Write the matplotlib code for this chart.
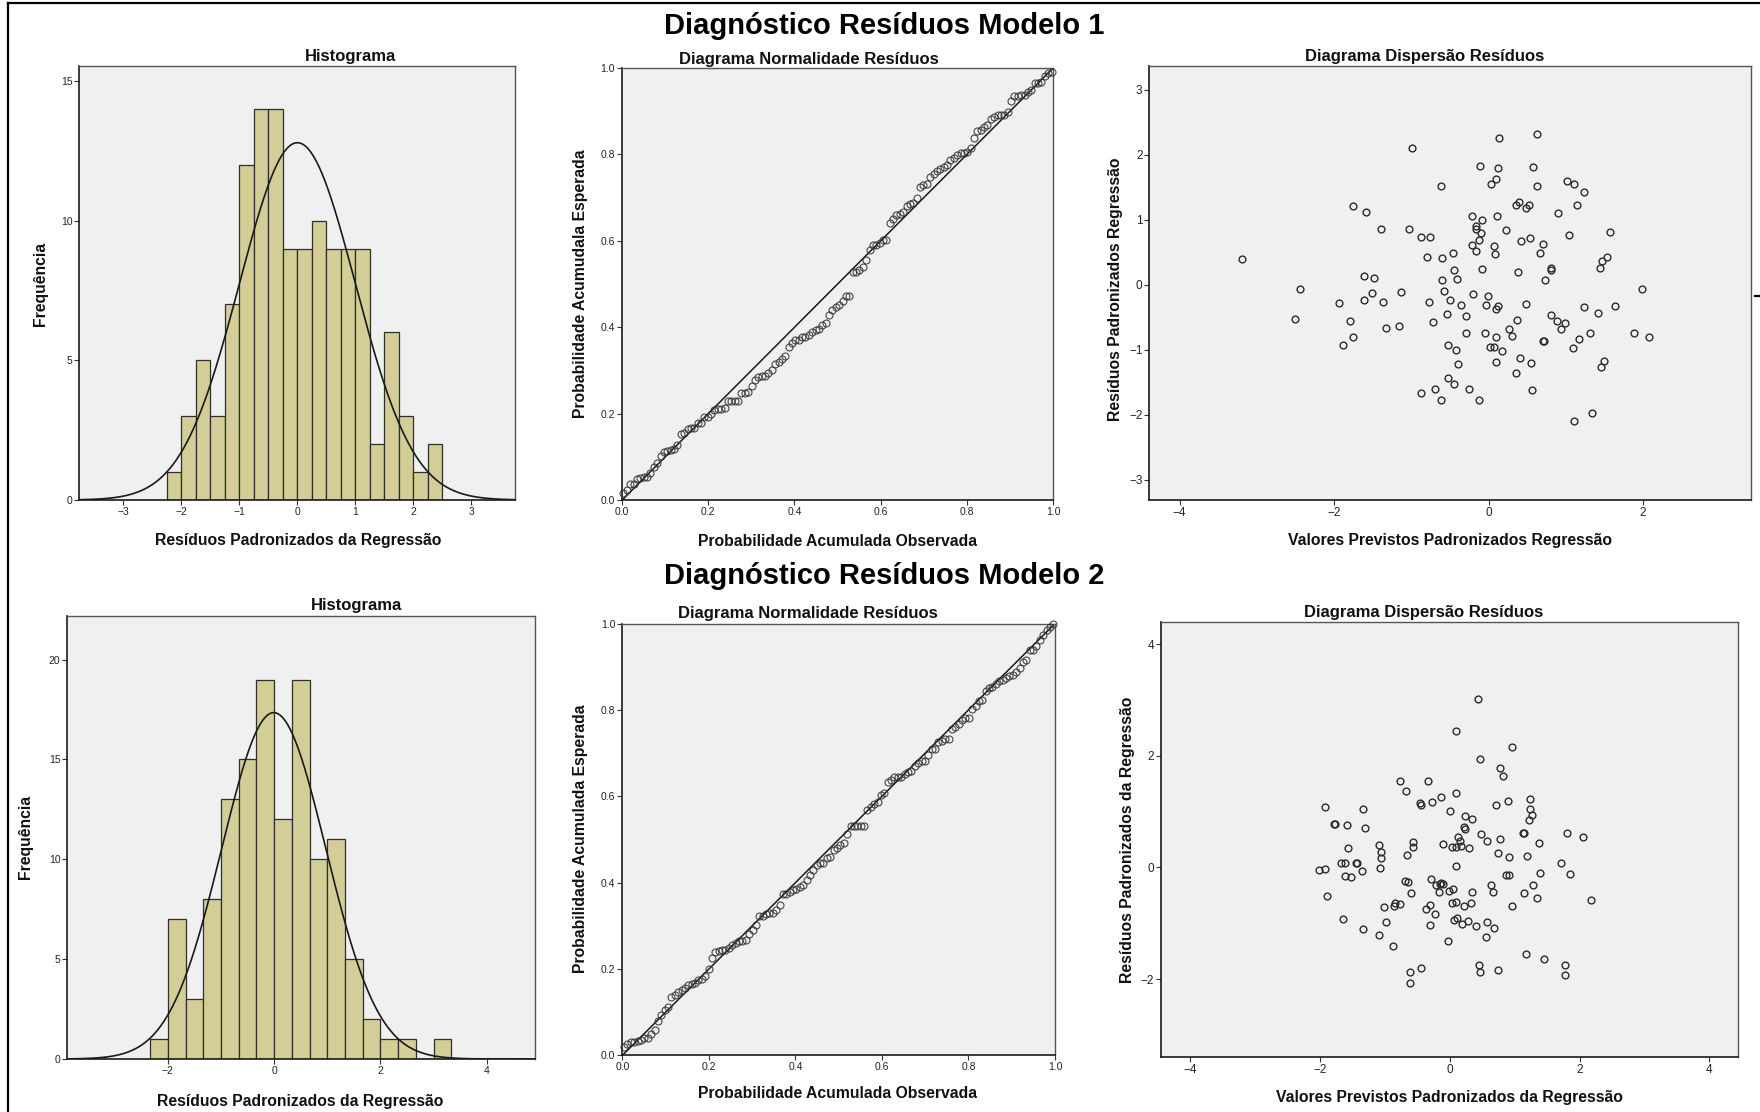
import math
import numpy as np
import matplotlib
matplotlib.use("Agg")
import matplotlib.pyplot as plt
from matplotlib.lines import Line2D

plt.rcParams['font.family'] = ['Liberation Sans', 'DejaVu Sans']

# ---------------------------------------------------------------- data
# Model 1: standardized predicted values and standardized residuals
pred1 = [-3.19, -2.44, -2.50, -1.93, -1.80, -1.89, -1.75, -1.76, -1.59, -1.61,
         -1.48, -1.61, -1.51, -1.37, -1.39, -1.33, -1.16, -1.14, -0.99, -1.03,
         -0.88, -0.76, -0.80, -0.77, -0.72, -0.88, -0.70, -0.61, -0.62, -0.60,
         -0.60, -0.58, -0.50, -0.54, -0.53, -0.52, -0.45, -0.46, -0.45, -0.41,
         -0.42, -0.39, -0.36, -0.29, -0.29, -0.26, -0.21, -0.16, -0.16, -0.21,
         -0.16, -0.20, -0.12, -0.11, -0.08, -0.10, -0.12, -0.08, -0.04, -0.01,
         -0.05, 0.02, 0.07, 0.03, 0.10, 0.12, 0.14, 0.11, 0.07, 0.08,
         0.09, 0.10, 0.12, 0.10, 0.17, 0.22, 0.27, 0.30, 0.35, 0.39,
         0.38, 0.37, 0.35, 0.41, 0.42, 0.48, 0.49, 0.52, 0.54, 0.55,
         0.56, 0.57, 0.63, 0.63, 0.67, 0.71, 0.73, 0.70, 0.72, 0.81,
         0.81, 0.81, 0.88, 0.90, 0.94, 0.99, 1.01, 1.04, 1.09, 1.10,
         1.10, 1.14, 1.17, 1.24, 1.24, 1.31, 1.34, 1.42, 1.44, 1.47,
         1.53, 1.45, 1.49, 1.57, 1.63, 1.88, 1.99, 2.07]
resid1 = [0.39, -0.07, -0.52, -0.28, -0.56, -0.92, -0.80, 1.21, 1.12, 0.14,
          0.10, -0.24, -0.13, -0.27, 0.86, -0.67, -0.63, -0.12, 2.10, 0.85,
          0.73, 0.74, 0.42, -0.26, -0.57, -1.66, -1.60, -1.77, 1.52, 0.41,
          0.07, -0.10, -0.23, -0.45, -0.92, -1.43, -1.52, 0.48, 0.23, 0.08,
          -1.01, -1.22, -0.31, -0.48, -0.74, -1.60, 1.06, 0.90, 0.85, 0.61,
          0.52, -0.15, -1.77, 1.83, 0.99, 0.80, 0.69, 0.24, -0.31, -0.18,
          -0.74, -0.96, -0.96, 1.54, 1.63, 1.80, 2.26, 1.05, 0.60, 0.47,
          -0.81, -1.19, -0.33, -0.37, -1.02, 0.84, -0.68, -0.79, 1.23, 1.27,
          0.20, -0.54, -1.36, -1.13, 0.67, -0.30, 1.18, 1.23, 0.71, -1.21,
          -1.62, 1.81, 2.32, 1.52, 0.49, 0.62, 0.07, -0.87, -0.87, 0.26,
          0.23, -0.47, -0.56, 1.10, -0.68, -0.59, 1.60, 0.76, -0.97, 1.54,
          -2.10, 1.23, -0.84, 1.43, -0.35, -0.74, -1.98, -0.43, 0.26, 0.36,
          0.43, -1.27, -1.18, 0.81, -0.33, -0.74, -0.07, -0.80]

# Model 2: standardized predicted values and standardized residuals
pred2 = [-2.02, -1.92, -1.92, -1.90, -1.78, -1.77, -1.67, -1.62, -1.64, -1.61,
         -1.58, -1.57, -1.52, -1.45, -1.43, -1.36, -1.34, -1.34, -1.30, -1.09,
         -1.09, -1.06, -1.06, -1.08, -1.01, -0.98, -0.87, -0.86, -0.84, -0.76,
         -0.77, -0.68, -0.69, -0.65, -0.66, -0.62, -0.62, -0.60, -0.57, -0.56,
         -0.46, -0.44, -0.45, -0.36, -0.33, -0.31, -0.31, -0.29, -0.27, -0.23,
         -0.21, -0.16, -0.15, -0.11, -0.13, -0.11, -0.03, -0.01, 0.01, 0.03,
         0.03, 0.05, 0.07, 0.09, 0.09, 0.09, 0.09, 0.09, 0.11, 0.13,
         0.15, 0.18, 0.19, 0.22, 0.22, 0.23, 0.24, 0.28, 0.30, 0.33,
         0.34, 0.35, 0.40, 0.43, 0.45, 0.46, 0.47, 0.48, 0.57, 0.57,
         0.56, 0.63, 0.67, 0.68, 0.72, 0.74, 0.75, 0.77, 0.78, 0.82,
         0.86, 0.92, 0.90, 0.92, 0.96, 0.96, 1.13, 1.14, 1.15, 1.18,
         1.19, 1.22, 1.23, 1.24, 1.27, 1.28, 1.35, 1.38, 1.39, 1.46,
         1.71, 1.77, 1.78, 1.81, 1.85, 2.05, 2.17, -0.13]
resid2 = [-0.05, -0.03, 1.08, -0.52, 0.78, 0.78, 0.08, 0.08, -0.93, -0.15,
          0.76, 0.34, -0.18, 0.08, 0.08, -0.06, 1.04, -1.10, 0.71, -1.21,
          0.40, 0.27, 0.17, -0.02, -0.71, -0.98, -1.40, -0.69, -0.63, -0.66,
          1.55, 1.37, -0.24, -0.27, 0.22, -1.88, -2.07, -0.46, 0.37, 0.46,
          1.15, 1.11, -1.80, -0.75, 1.54, -0.68, -1.03, -0.21, 1.17, -0.84,
          -0.32, -0.44, -0.29, -0.30, 1.26, 0.41, -1.32, -0.42, 1.01, -0.64,
          0.37, -0.39, -0.94, 2.45, 1.34, 0.03, 0.37, -0.62, -0.90, 0.55,
          0.47, 0.39, -1.01, -0.69, 0.73, 0.69, 0.92, -0.96, 0.35, -0.63,
          0.87, -0.44, -1.05, 3.01, -1.75, -1.87, 1.94, 0.60, 0.47, -0.97,
          -1.25, -0.32, -0.45, -1.08, 1.12, 0.26, -1.84, 1.78, 0.51, 1.63,
          -0.14, -0.14, 1.18, 0.19, 2.16, -0.70, 0.62, 0.62, -0.46, -1.56,
          0.21, 0.85, 1.05, 1.22, 0.93, -0.31, -0.55, 0.44, -0.10, -1.64,
          0.08, -1.75, -1.93, 0.61, -0.11, 0.55, -0.58, -0.28]

# histogram bin layouts used by each model
hist1_bins = np.arange(-9, 11) * 0.25          # -2.25 ... 2.5
hist2_bins = np.arange(-7, 11) / 3.0           # -2.33 ... 3.33

# ---------------------------------------------------------------- styling
W, H = 1760, 1112
BG = '#F0F0F0'
BAR = '#D3CE97'
EDGE = '#2e2e2e'

fig = plt.figure(figsize=(W / 100, H / 100), dpi=100)
fig.patch.set_facecolor('white')


def box(x0, y0, x1, y1):
    """Axes rectangle from pixel box (top-left origin)."""
    return [x0 / W, 1 - y1 / H, (x1 - x0) / W, (y1 - y0) / H]


def ftext(x, y, s, **kw):
    fig.text(x / W, 1 - y / H, s, **kw)


def style(ax, narrow=False):
    ax.set_facecolor(BG)
    for side in ('top', 'right'):
        ax.spines[side].set_color('#555555')
        ax.spines[side].set_linewidth(1.0)
    for side in ('left', 'bottom'):
        ax.spines[side].set_color('#1a1a1a')
        ax.spines[side].set_linewidth(1.2)
    ax.tick_params(direction='out', length=3.5, width=0.8, color='#333333',
                   labelsize=7.5, labelcolor='#222222', pad=1.5,
                   top=False, right=False)
    if narrow:
        for lab in ax.get_xticklabels() + ax.get_yticklabels():
            lab.set_family(['Liberation Sans Narrow', 'Liberation Sans'])
            lab.set_fontsize(8.5)


def normal_cdf(z):
    return 0.5 * (1.0 + math.erf(z / math.sqrt(2.0)))


def histogram(ax, resid, bins, xlim, ylim, xticks, yticks):
    resid = np.asarray(resid)
    ax.hist(resid, bins=bins, color=BAR, edgecolor=EDGE, linewidth=0.9,
            zorder=2)
    n = resid.size
    mu = resid.mean()
    sd = resid.std(ddof=1)
    bw = bins[1] - bins[0]
    xs = np.linspace(xlim[0], xlim[1], 500)
    ys = n * bw * np.exp(-0.5 * ((xs - mu) / sd) ** 2) / (sd * math.sqrt(2 * math.pi))
    ax.plot(xs, ys, color='#1a1a1a', lw=1.2, zorder=3)
    ax.set_xlim(*xlim)
    ax.set_ylim(*ylim)
    ax.set_xticks(xticks)
    ax.set_yticks(yticks)
    style(ax)


def ppplot(ax, resid):
    z = np.sort(np.asarray(resid))
    n = z.size
    observed = (np.arange(1, n + 1) - 0.5) / n
    expected = np.array([normal_cdf(v) for v in z])
    ax.plot([0, 1], [0, 1], color='#1a1a1a', lw=1.1, zorder=2)
    ax.plot(observed, expected, 'o', mfc='none', mec='#333333', ms=5.0,
            mew=0.85, alpha=0.85, zorder=3, clip_on=False)
    ax.set_xlim(0, 1)
    ax.set_ylim(0, 1)
    ticks = [0.0, 0.2, 0.4, 0.6, 0.8, 1.0]
    ax.set_xticks(ticks)
    ax.set_yticks(ticks)
    ax.set_xticklabels([f'{t:.1f}' for t in ticks])
    ax.set_yticklabels([f'{t:.1f}' for t in ticks])
    style(ax)


def scatter(ax, pred, resid, xlim, ylim, xticks, yticks):
    ax.plot(pred, resid, 'o', mfc='none', mec='#2b2b2b', ms=4.9, mew=1.0,
            zorder=3)
    ax.set_xlim(*xlim)
    ax.set_ylim(*ylim)
    ax.set_xticks(xticks)
    ax.set_yticks(yticks)
    style(ax, narrow=True)


TITLE = dict(fontsize=12, fontweight='bold', ha='center', va='baseline',
             color='#111111')
LABEL = dict(fontsize=11.3, fontweight='bold', ha='center', va='baseline',
             color='#111111')
YLABEL = dict(fontsize=11.3, fontweight='bold', ha='center', va='center',
              rotation=90, color='#111111')

# ---------------------------------------------------------------- model 1
ax = fig.add_axes(box(79.3, 66.1, 515.4, 500.0))
histogram(ax, resid1, hist1_bins, (-3.76, 3.76), (0, 15.53),
          [-3, -2, -1, 0, 1, 2, 3], [0, 5, 10, 15])
ftext(350, 61.4, 'Histograma', **TITLE)
ftext(297.7, 545.4, 'Resíduos Padronizados da Regressão', **LABEL)
ftext(40.5, 284, 'Frequência', **YLABEL)

ax = fig.add_axes(box(621.8, 67.9, 1053.2, 500.4))
ppplot(ax, resid1)
ftext(808.4, 63.6, 'Diagrama Normalidade Resíduos', **TITLE)
ftext(838, 546.4, 'Probabilidade Acumulada Observada', **LABEL)
ftext(580.2, 284, 'Probabilidade Acumudala Esperada', **YLABEL)

ax = fig.add_axes(box(1149.4, 66.1, 1751.3, 500.0))
scatter(ax, pred1, resid1, (-4.39, 3.40), (-3.31, 3.36),
        [-4, -2, 0, 2], [-3, -2, -1, 0, 1, 2, 3])
ftext(1424.8, 61.4, 'Diagrama Dispersão Resíduos', **TITLE)
ftext(1450.3, 544.6, 'Valores Previstos Padronizados Regressão', **LABEL)
ftext(1115.1, 289, 'Resíduos Padronizados Regressão', **YLABEL)

# ---------------------------------------------------------------- model 2
ax = fig.add_axes(box(67.4, 615.6, 535.1, 1059.0))
histogram(ax, resid2, hist2_bins, (-3.89, 4.91), (0, 22.2),
          [-2, 0, 2, 4], [0, 5, 10, 15, 20])
ftext(356, 610.2, 'Histograma', **TITLE)
ftext(300.5, 1106, 'Resíduos Padronizados da Regressão', **LABEL)
ftext(25.9, 836.7, 'Frequência', **YLABEL)

ax = fig.add_axes(box(622.4, 623.5, 1055.0, 1055.4))
ppplot(ax, resid2)
ftext(808, 618.1, 'Diagrama Normalidade Resíduos', **TITLE)
ftext(838, 1098.4, 'Probabilidade Acumulada Observada', **LABEL)
ftext(580.2, 838.5, 'Probabilidade Acumulada Esperada', **YLABEL)

ax = fig.add_axes(box(1161.1, 621.7, 1737.8, 1057.2))
scatter(ax, pred2, resid2, (-4.45, 4.44), (-3.40, 4.40),
        [-4, -2, 0, 2, 4], [-2, 0, 2, 4])
ftext(1423.7, 617, 'Diagrama Dispersão Resíduos', **TITLE)
ftext(1449.7, 1102, 'Valores Previstos Padronizados da Regressão', **LABEL)
ftext(1127.7, 840.3, 'Resíduos Padronizados da Regressão', **YLABEL)

# ---------------------------------------------------------------- headings
ftext(884.5, 34, 'Diagnóstico Resíduos Modelo 1', fontsize=21,
      fontweight='bold', ha='center', va='baseline', color='black')
ftext(884.5, 584, 'Diagnóstico Resíduos Modelo 2', fontsize=21,
      fontweight='bold', ha='center', va='baseline', color='black')

# outer frame lines (top and left) and the stray edge tick at the right
fig.add_artist(Line2D([8 / W, 1], [1 - 3 / H, 1 - 3 / H], color='black',
                      lw=1.6, transform=fig.transFigure))
fig.add_artist(Line2D([8 / W, 8 / W], [0, 1 - 3 / H], color='black',
                      lw=1.6, transform=fig.transFigure))
fig.add_artist(Line2D([1755 / W, 1 ], [1 - 296 / H, 1 - 296 / H],
                      color='black', lw=1.6, transform=fig.transFigure))

fig.savefig('out.png', dpi=100, facecolor='white')
